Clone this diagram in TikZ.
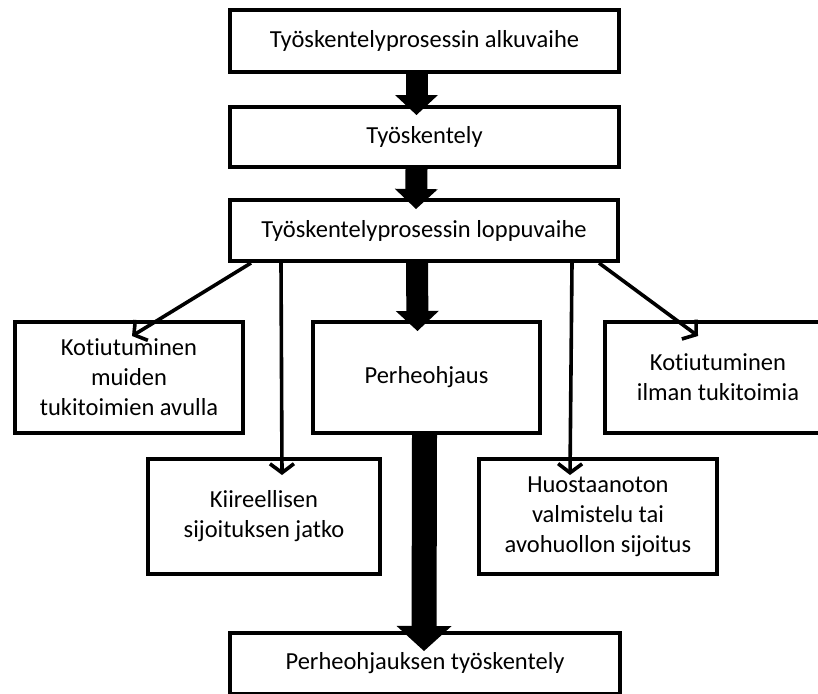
\documentclass[tikz,border=0pt]{standalone}
\usepackage{fontspec}
\setmainfont{Carlito}[RawFeature={-liga;-clig;-calt}]
\usetikzlibrary{arrows.meta}

\tikzset{
  box/.style={draw, line width=4pt, align=center, inner sep=0pt,
    font=\fontsize{24.5}{30}\selectfont},
  bigarrow/.style={line width=22pt, -{Triangle[length=20pt,width=43pt,line width=0pt]}},
  hugearrow/.style={line width=25pt, -{Triangle[length=25pt,width=55pt,line width=0pt]}},
  smallarrow/.style={line width=3.6pt, -{Straight Barb[length=9pt,width=24pt]}}
}

\begin{document}
\begin{tikzpicture}[x=1pt, y=-1pt]
\useasboundingbox (0,0) rectangle (818,693);
\clip (0,0) rectangle (818,693);

% upper chain
\node[box, minimum width=389pt, minimum height=62pt] (alku) at (424.5,41) {Työskentelyprosessin alkuvaihe};
\node[box, minimum width=389pt, minimum height=60pt] (tyo) at (424.5,137) {Työskentely};
\node[box, minimum width=388pt, minimum height=61pt] (loppu) at (424,230.5) {Työskentelyprosessin loppuvaihe};

% middle row
\node[box, minimum width=228pt, minimum height=111pt] (muiden) at (129,377.5) {Kotiutuminen\\muiden\\tukitoimien avulla};
\node[box, minimum width=227pt, minimum height=111pt] (perhe) at (426.5,377.5) {Perheohjaus};
\node[box, minimum width=226pt, minimum height=111pt] (ilman) at (718,377.5) {Kotiutuminen\\ilman tukitoimia};

% lower row
\node[box, minimum width=232pt, minimum height=115pt] (kiire) at (264,516.5) {Kiireellisen\\sijoituksen jatko};
\node[box, minimum width=238pt, minimum height=115pt] (huosta) at (598,516.5) {Huostaanoton\\valmistelu tai\\avohuollon sijoitus};

\node[box, minimum width=390pt, minimum height=61pt] (perhetyo) at (425,663.5) {Perheohjauksen työskentely};

% thick arrows
\draw[bigarrow] ([xshift=-8pt]alku.south) -- ([xshift=-8pt,yshift=-10pt]tyo.north);
\draw[bigarrow] ([xshift=-8pt]tyo.south) -- ([xshift=-8pt,yshift=-11pt]loppu.north);
\draw[bigarrow] ([xshift=-7pt]loppu.south) -- ([xshift=-9pt,yshift=-11pt]perhe.north);
\draw[hugearrow] ([xshift=-2pt]perhe.south) -- ([xshift=-1pt,yshift=-20pt]perhetyo.north);

% thin arrows
\draw[smallarrow] ([xshift=23pt]loppu.south west) -- ([xshift=3pt,yshift=-16pt]muiden.north);
\draw[smallarrow] ([xshift=53pt]loppu.south west) -- ([xshift=18pt,yshift=-18pt]kiire.north);
\draw[smallarrow] ([xshift=-48pt]loppu.south east) -- ([xshift=-28pt,yshift=-18pt]huosta.north);
\draw[smallarrow] ([xshift=-21pt]loppu.south east) -- ([xshift=-20pt,yshift=-16pt]ilman.north);

\end{tikzpicture}
\end{document}
